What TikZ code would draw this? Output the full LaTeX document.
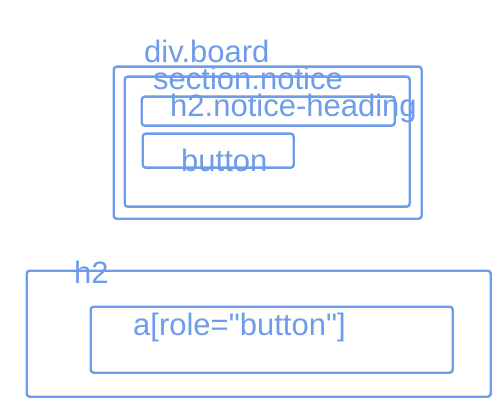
\documentclass[tikz,border=0pt]{standalone}
\usepackage{fontspec}
\newfontfamily\tagfont{Liberation Sans}
\definecolor{boxblue}{HTML}{6E9BEA}
\begin{document}
\begin{tikzpicture}[x=1pt, y=-1pt,
    box/.style={draw=boxblue, line width=2.4pt, rounded corners=3pt, anchor=north west, inner sep=0pt},
    tag/.style={text=boxblue, anchor=base west, inner sep=0pt, font=\tagfont\fontsize{31}{37}\selectfont}]
  \useasboundingbox (0,0) rectangle (503,406);

  \node[box, minimum width=308pt, minimum height=152pt] (board) at (112.5,65.5) {};
  \node[box, minimum width=285pt, minimum height=130pt] (notice) at (123.5,75.5) {};
  \node[box, minimum width=253pt, minimum height=29pt] (heading) at (140.5,95.5) {};
  \node[box, minimum width=151pt, minimum height=34pt] (button) at (141.5,132.5) {};
  \node[box, minimum width=464pt, minimum height=126pt] (h2) at (25.5,269.5) {};
  \node[box, minimum width=362pt, minimum height=66pt] (link) at (89.5,305.5) {};

  \node[tag] (boardtag) at (144,63) {div.board};
  \node[tag] (noticetag) at (153,90) {section.notice};
  \node[tag] (headingtag) at (170,117) {h2.notice-heading};
  \node[tag] (buttontag) at (181,172) {button};
  \node[tag] (h2tag) at (74,283) {h2};
  \node[tag] (linktag) at (133,335) {a[role="button"]};
\end{tikzpicture}
\end{document}
